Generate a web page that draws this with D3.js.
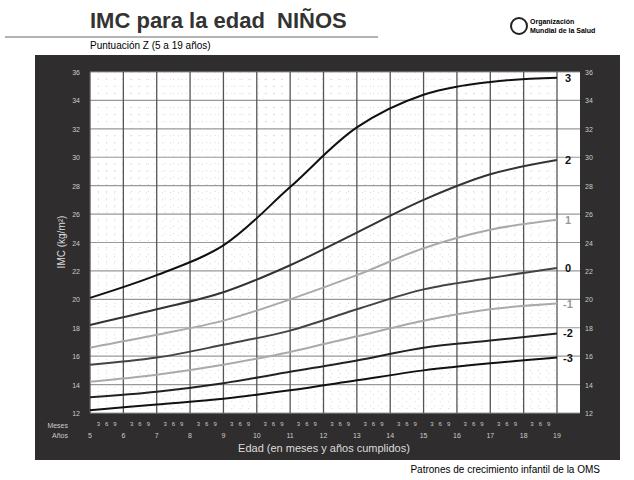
<!DOCTYPE html><html><head><meta charset="utf-8">
<script src="https://cdn.jsdelivr.net/npm/d3@7"></script>
<style>body{margin:0;background:#fff}svg{font-family:"Liberation Sans",Arial,sans-serif}</style></head><body>
<svg id="c" width="634" height="480"></svg>
<script>
const ages=[5,7,9,11,13,15,17,19];
const zLabels=["3","2","1","0","-1","-2","-3"];
const z3=[20.1,21.7,23.8,27.9,32.1,34.4,35.3,35.6];
const z2=[18.2,19.3,20.5,22.4,24.7,27.0,28.8,29.8];
const z1=[16.6,17.5,18.5,20.0,21.7,23.6,24.9,25.6];
const z0=[15.4,15.9,16.8,17.8,19.3,20.7,21.5,22.2];
const zm1=[14.2,14.7,15.4,16.3,17.4,18.5,19.3,19.7];
const zm2=[13.1,13.5,14.1,14.9,15.7,16.6,17.1,17.6];
const zm3=[12.2,12.6,13.0,13.6,14.3,15.0,15.5,15.9];
const series=[z3,z2,z1,z0,zm1,zm2,zm3];
const colors=["#111","#333","#aaa","#444","#aaa","#222","#111"];
const yTicks=d3.range(12,37,2);
const svg=d3.select("#c");
svg.append("text").attr("x",90).attr("y",28).attr("font-size",22).attr("font-weight","bold").attr("fill","#333").attr("xml:space","preserve").style("white-space","pre").text("IMC para la edad  NIÑOS");
svg.append("line").attr("x1",5).attr("x2",378).attr("y1",37).attr("y2",37).attr("stroke","#666");
svg.append("text").attr("x",90).attr("y",49).attr("font-size",10).text("Puntuación Z (5 a 19 años)");
svg.append("circle").attr("cx",519).attr("cy",26).attr("r",8).attr("fill","none").attr("stroke","#222").attr("stroke-width",2);
svg.append("text").attr("x",530).attr("y",24).attr("font-size",7).attr("font-weight","bold").text("Organización");
svg.append("text").attr("x",530).attr("y",33).attr("font-size",7).attr("font-weight","bold").text("Mundial de la Salud");
svg.append("rect").attr("x",35).attr("y",55).attr("width",585).attr("height",405).attr("fill","#2f2d2e");
svg.append("rect").attr("x",90).attr("y",72).attr("width",490).attr("height",341).attr("fill","#fff");
const x=d3.scaleLinear().domain([5,19]).range([90,557]);
const y=d3.scaleLinear().domain([12,36]).range([413,72]);
const g=svg.append("g");
d3.range(5,19,0.25).forEach(a=>{if(a%1)g.append("line").attr("x1",x(a)).attr("x2",x(a)).attr("y1",72).attr("y2",413).attr("stroke","#d8c8d2").attr("stroke-dasharray","1,6").attr("stroke-width",0.8);});
d3.range(12,36,0.5).forEach(v=>{if(v%2)g.append("line").attr("x1",90).attr("x2",557).attr("y1",y(v)).attr("y2",y(v)).attr("stroke","#d8c8d2").attr("stroke-dasharray","1,7").attr("stroke-width",0.8);});
yTicks.forEach(v=>g.append("line").attr("x1",90).attr("x2",580).attr("y1",y(v)).attr("y2",y(v)).attr("stroke","#999").attr("stroke-width",1.2));
d3.range(5,20).forEach(a=>g.append("line").attr("x1",x(a)).attr("x2",x(a)).attr("y1",72).attr("y2",413).attr("stroke","#555").attr("stroke-width",1.3));
const line=d3.line().x((d,i)=>x(ages[i])).y(d=>y(d)).curve(d3.curveCatmullRom.alpha(0.5));
series.forEach((s,i)=>{
 svg.append("path").attr("d",line(s)).attr("fill","none").attr("stroke",colors[i]).attr("stroke-width",2);
 svg.append("text").attr("x",568).attr("y",y(s[s.length-1])+4).attr("text-anchor","middle").attr("font-size",11).attr("font-weight","bold").attr("fill",colors[i]=="#aaa"?"#999":"#111").text(zLabels[i]);
});
yTicks.forEach(v=>{
 svg.append("text").attr("x",80).attr("y",y(v)+3).attr("text-anchor","end").attr("font-size",7).attr("fill","#ccc").text(v);
 svg.append("text").attr("x",585).attr("y",y(v)+3).attr("font-size",7).attr("fill","#ccc").text(v);
});
svg.append("text").attr("transform","translate(65,242) rotate(-90)").attr("text-anchor","middle").attr("font-size",10).attr("fill","#ddd").text("IMC (kg/m²)");
svg.append("text").attr("x",68).attr("y",428).attr("text-anchor","end").attr("font-size",7).attr("fill","#ccc").text("Meses");
svg.append("text").attr("x",68).attr("y",438).attr("text-anchor","end").attr("font-size",7).attr("fill","#ccc").text("Años");
d3.range(5,20).forEach(a=>{
 svg.append("text").attr("x",x(a)).attr("y",438).attr("text-anchor","middle").attr("font-size",7).attr("fill","#ccc").text(a);
 if(a<19)[3,6,9].forEach(m=>svg.append("text").attr("x",x(a+m/12)).attr("y",426).attr("text-anchor","middle").attr("font-size",6).attr("fill","#ccc").text(m));
});
svg.append("text").attr("x",324).attr("y",452).attr("text-anchor","middle").attr("font-size",11).attr("fill","#ddd").text("Edad (en meses y años cumplidos)");
svg.append("text").attr("x",600).attr("y",473).attr("text-anchor","end").attr("font-size",10).text("Patrones de crecimiento infantil de la OMS");
</script></body></html>
